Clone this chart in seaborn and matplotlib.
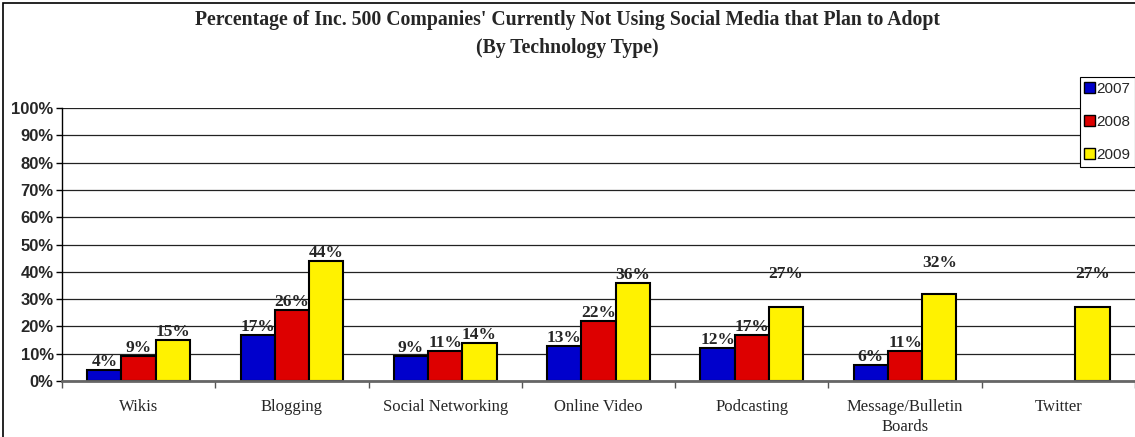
import matplotlib
matplotlib.use('Agg')
import matplotlib.pyplot as plt
import matplotlib.patches as mpatches
import numpy as np
import pandas as pd
import seaborn as sns

# Data
categories = ['Wikis', 'Blogging', 'Social Networking', 'Online Video',
              'Podcasting', 'Message/Bulletin\nBoards', 'Twitter']
years = ['2007', '2008', '2009']
pct_2007 = [4, 17, 9, 13, 12, 6, np.nan]
pct_2008 = [9, 26, 11, 22, 17, 11, np.nan]
pct_2009 = [15, 44, 14, 36, 27, 32, 27]
colors = ['#0000CC', '#DD0000', '#FFF200']

rows = []
for yr, vals in zip(years, [pct_2007, pct_2008, pct_2009]):
    for cat, v in zip(categories, vals):
        rows.append({'Category': cat, 'Year': yr, 'Value': v})
df = pd.DataFrame(rows)

sns.set_style('white')
plt.rcParams['font.family'] = ['Liberation Serif', 'DejaVu Serif']

fig = plt.figure(figsize=(11.35, 4.37), dpi=100)
ax = fig.add_axes([0.0546, 0.128, 0.9454, 0.625])

sns.barplot(data=df, x='Category', y='Value', hue='Year', order=categories,
            hue_order=years, palette=colors, width=0.67, gap=0,
            edgecolor='black', linewidth=1.5, saturation=1, ax=ax, legend=False)

ax.set_ylim(0, 100)
ax.set_xlim(-0.5, len(categories) - 0.5)
ax.set_yticks(range(0, 101, 10))
ax.set_yticklabels([f'{t}%' for t in range(0, 101, 10)],
                   family='Liberation Sans', fontweight='bold', fontsize=12)
ax.yaxis.grid(True, color='#222222', linewidth=0.9)
ax.set_axisbelow(True)
ax.set_xlabel('')
ax.set_ylabel('')

# x ticks between the groups, labels at centres
ax.set_xticks(np.arange(-0.5, len(categories), 1))
ax.set_xticklabels([])
ax.set_xticks(range(len(categories)), minor=True)
ax.set_xticklabels(categories, minor=True, fontsize=12, linespacing=1.3)
ax.tick_params(axis='x', which='major', direction='out', length=5, width=1,
               color='#555555', bottom=True)
ax.tick_params(axis='x', which='minor', length=0, pad=13)
ax.tick_params(axis='y', direction='out', length=4, width=1, color='black',
               left=True, pad=2)

for s in ['top', 'right']:
    ax.spines[s].set_visible(False)
ax.spines['left'].set_color('black')
ax.spines['left'].set_linewidth(1)
ax.spines['bottom'].set_color('#666666')
ax.spines['bottom'].set_linewidth(2)

# value labels (some labels in the original float higher)
extra_raise = {('Podcasting', '2009'): 18, ('Message/Bulletin\nBoards', '2009'): 16,
               ('Twitter', '2009'): 18}
for yr, cont in zip(years, ax.containers):
    for bar in cont:
        h = bar.get_height()
        if np.isnan(h) or h == 0:
            continue
        xc = bar.get_x() + bar.get_width() / 2
        cat = categories[int(round(xc))]
        off = 0 + extra_raise.get((cat, yr), 0)
        ax.annotate(f'{h:.0f}%', (xc, h), xytext=(0, off), textcoords='offset points',
                    ha='center', va='bottom', fontsize=12.5, fontweight='bold')

# legend
handles = [mpatches.Patch(facecolor=c, edgecolor='black', linewidth=1, label=y)
           for c, y in zip(colors, years)]
leg = fig.legend(handles=handles, loc='upper right', bbox_to_anchor=(1.0, 0.823),
                 frameon=True, fancybox=False, edgecolor='black', framealpha=1,
                 prop={'family': 'Liberation Sans', 'size': 11},
                 handlelength=0.7, handleheight=0.7, handletextpad=0.1,
                 labelspacing=1.25, borderpad=0.3, borderaxespad=0)
leg.get_frame().set_linewidth(0.8)

fig.suptitle("Percentage of Inc. 500 Companies' Currently Not Using Social Media that Plan to Adopt\n(By Technology Type)",
             y=0.978, fontsize=14.2, fontweight='bold', linespacing=1.55)

# outer frame of the chart
fig.patches.append(mpatches.Rectangle((0.003, -0.1), 1.2, 1.093, transform=fig.transFigure,
                                      fill=False, edgecolor='black', linewidth=1.2))

fig.savefig('out.png', dpi=100)
